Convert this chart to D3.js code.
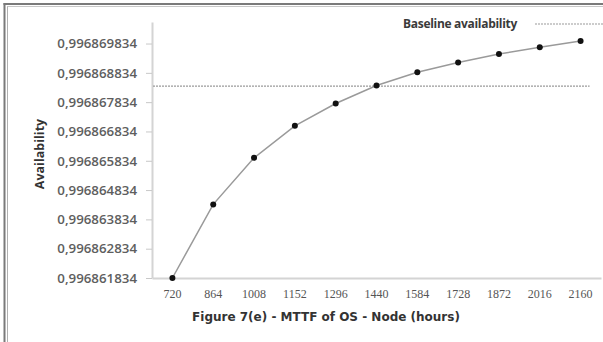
<!DOCTYPE html>
<html>
<head>
<meta charset="utf-8">
<script src="https://cdn.jsdelivr.net/npm/d3@7"></script>
<style>
  html, body { margin: 0; padding: 0; background: #fff; }
  svg { display: block; }
</style>
</head>
<body>
<svg id="chart" width="603" height="342"></svg>
<script>
// MTTF of the OS on a node (hours) against the resulting availability
const categories = ["720", "864", "1008", "1152", "1296", "1440", "1584", "1728", "1872", "2016", "2160"];
const availability = [
  0.996861834, 0.996864346, 0.996865934, 0.996867025, 0.996867788, 0.996868402,
  0.996868855, 0.996869186, 0.996869479, 0.996869707, 0.996869922
];
const baselineAvailability = 0.996868378;
const yTickValues = [
  0.996861834, 0.996862834, 0.996863834, 0.996864834, 0.996865834,
  0.996866834, 0.996867834, 0.996868834, 0.996869834
];
const yDomain = [0.996861834, 0.996870569];
const xTitle = "Figure 7(e) - MTTF of OS - Node (hours)";
const yTitle = "Availability";
const legendLabel = "Baseline availability";

const svg = d3.select("#chart");
const W = 603, H = 342;
const plot = { left: 152, right: 601, top: 22, bottom: 278 };

// frame around the figure
svg.append("line").attr("x1", 4.5).attr("x2", 4.5).attr("y1", 3).attr("y2", H)
  .attr("stroke", "#7a7a7a").attr("stroke-width", 2);
svg.append("line").attr("x1", 3.5).attr("x2", W).attr("y1", 4).attr("y2", 4)
  .attr("stroke", "#7a7a7a").attr("stroke-width", 2);
svg.append("line").attr("x1", 7.5).attr("x2", 7.5).attr("y1", 6).attr("y2", H)
  .attr("stroke", "#b0b0b0").attr("stroke-width", 1);
svg.append("line").attr("x1", 7.5).attr("x2", W).attr("y1", 6.5).attr("y2", 6.5)
  .attr("stroke", "#c8c8c8").attr("stroke-width", 1);

const x = d3.scaleBand().domain(categories).range([plot.left, plot.right]);
const y = d3.scaleLinear().domain(yDomain).range([plot.bottom, plot.top]);
const cx = c => x(c) + x.bandwidth() / 2;

const locale = d3.formatLocale({ decimal: ",", thousands: ".", grouping: [3], currency: ["", ""] });
const fmt = locale.format(".9f");

// y axis
const yAxis = svg.append("g")
  .attr("transform", `translate(${plot.left},0)`)
  .call(d3.axisLeft(y).tickValues(yTickValues).tickFormat(fmt).tickSize(6).tickSizeOuter(0).tickPadding(9));
yAxis.select(".domain").attr("stroke", "#d4d4d4").attr("stroke-width", 2);
yAxis.selectAll(".tick line").attr("stroke", "#c8c8c8").attr("stroke-width", 1);
yAxis.selectAll(".tick text")
  .attr("fill", "#5e5e5e")
  .style("font-family", "'Open Sans', sans-serif")
  .style("font-weight", "600")
  .style("font-size", "13.3px");

// x axis
const xAxis = svg.append("g")
  .attr("transform", `translate(0,${plot.bottom})`)
  .call(d3.axisBottom(x).tickSize(0).tickPadding(11));
xAxis.select(".domain").attr("stroke", "#d4d4d4").attr("stroke-width", 2);
xAxis.selectAll(".tick text")
  .attr("fill", "#555")
  .style("font-family", "'Liberation Serif', serif")
  .style("font-size", "12px");

// axis titles
svg.append("text")
  .attr("x", 326).attr("y", 321)
  .attr("text-anchor", "middle")
  .attr("fill", "#333")
  .style("font-family", "'DejaVu Sans', sans-serif")
  .style("font-weight", "bold")
  .style("font-size", "12px")
  .text(xTitle);

svg.append("text")
  .attr("transform", "translate(44,154) rotate(-90)")
  .attr("text-anchor", "middle")
  .attr("fill", "#333")
  .style("font-family", "'Open Sans', sans-serif")
  .style("font-weight", "bold")
  .style("font-size", "12.5px")
  .text(yTitle);

// baseline reference line
svg.append("line")
  .attr("x1", plot.left + 1).attr("x2", cx(categories[categories.length - 1]) + 9)
  .attr("y1", y(baselineAvailability)).attr("y2", y(baselineAvailability))
  .attr("stroke", "#9a9a9a").attr("stroke-width", 1.2).attr("stroke-dasharray", "2,1");

// availability curve
svg.append("path")
  .datum(availability)
  .attr("fill", "none")
  .attr("stroke", "#9a9a9a")
  .attr("stroke-width", 1.5)
  .attr("d", d3.line().x((d, i) => cx(categories[i])).y(d => y(d)));

svg.append("g").selectAll("circle")
  .data(availability)
  .join("circle")
  .attr("cx", (d, i) => cx(categories[i]))
  .attr("cy", d => y(d))
  .attr("r", 3)
  .attr("fill", "#111");

// legend
const legend = svg.append("g");
legend.append("text")
  .attr("x", 403).attr("y", 28)
  .attr("fill", "#3a3a3a")
  .style("font-family", "'Open Sans', sans-serif")
  .style("font-weight", "bold")
  .style("font-size", "12px")
  .style("letter-spacing", "-0.3px")
  .text(legendLabel);
legend.append("line")
  .attr("x1", 535).attr("x2", 603).attr("y1", 24).attr("y2", 24)
  .attr("stroke", "#9a9a9a").attr("stroke-width", 1.2).attr("stroke-dasharray", "2,1");
</script>
</body>
</html>
